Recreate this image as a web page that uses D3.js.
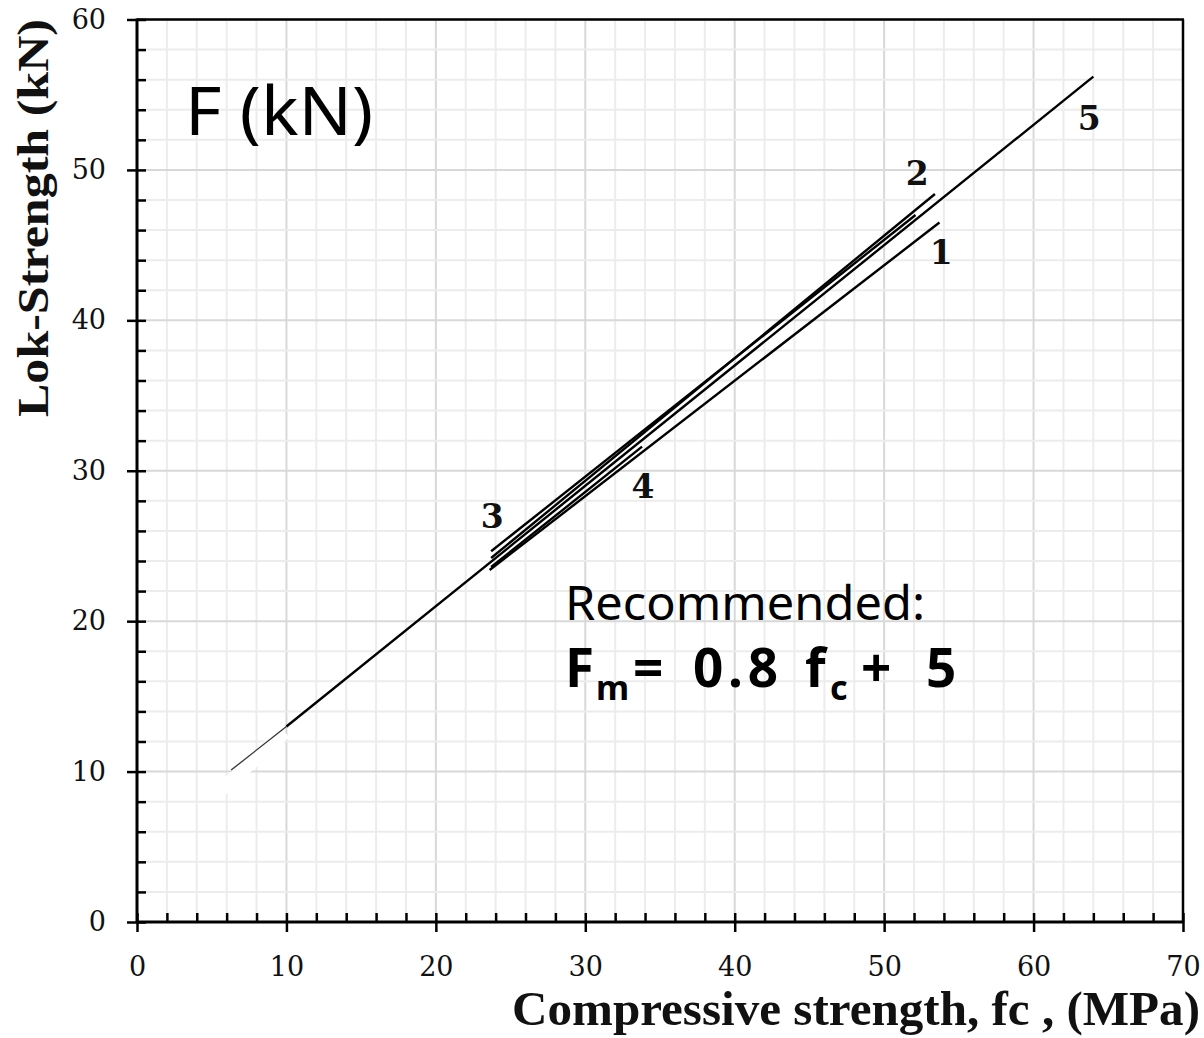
<!DOCTYPE html>
<html>
<head>
<meta charset="utf-8">
<style>
  body { margin: 0; background: #fff; }
  .tick text { font-family: "DejaVu Serif", serif; font-size: 27px; fill: #111; }
  .axis path { display: none; }
  .axis line { stroke: #000; stroke-width: 2.5; }
</style>
</head>
<body>
<script src="https://cdnjs.cloudflare.com/ajax/libs/d3/7.8.5/d3.min.js"></script>
<script>
// tick values
var xMajor = [0, 10, 20, 30, 40, 50, 60, 70];
var yMajor = [0, 10, 20, 30, 40, 50, 60];
var minorStep = 2;

// regression lines: [fc start, fc end], [F start, F end]
var lineIds = ["1", "2", "3", "4", "5"];
var lineFc = [[23.6, 53.7], [23.7, 53.4], [23.7, 52.1], [23.7, 33.8], [10, 64]];
var lineF  = [[23.4, 46.5], [24.2, 48.4], [24.65, 47.0], [23.6, 31.6], [13, 56.2]];

// faint hand-drawn extension of line 5 and the white patch over it
var extFc = [6.3, 10];
var extF  = [10.1, 13.0];
var patchFc = [5.3, 9.9];
var patchF  = [8.5, 12.6];

// curve numbers: label, fc, F (left/baseline position)
var labelText = ["5", "2", "1", "3", "4"];
var labelFc   = [62.95, 51.45, 53.05, 23.0, 33.1];
var labelF    = [52.65, 49.0, 43.75, 26.2, 28.2];

var W = 1204, H = 1038;
var svg = d3.select("body").append("svg")
    .attr("width", W).attr("height", H);

var x = d3.scaleLinear().domain([0, 70]).range([137, 1183]);
var y = d3.scaleLinear().domain([0, 60]).range([922, 19.5]);

var xMinor = d3.range(0, 70 + 0.001, minorStep);
var yMinor = d3.range(0, 60 + 0.001, minorStep);

// grid
var grid = svg.append("g");
grid.selectAll("line.vx").data(xMinor).enter().append("line")
    .attr("x1", d => x(d)).attr("x2", d => x(d))
    .attr("y1", y(0)).attr("y2", y(60))
    .attr("stroke", d => d % 10 === 0 ? "#d8d8d8" : "#ececec")
    .attr("stroke-width", 2);
grid.selectAll("line.hy").data(yMinor).enter().append("line")
    .attr("y1", d => y(d)).attr("y2", d => y(d))
    .attr("x1", x(0)).attr("x2", x(70))
    .attr("stroke", d => d % 10 === 0 ? "#d8d8d8" : "#ececec")
    .attr("stroke-width", 2);

// white patch
svg.append("line")
    .attr("x1", x(patchFc[0])).attr("y1", y(patchF[0]))
    .attr("x2", x(patchFc[1])).attr("y2", y(patchF[1]))
    .attr("stroke", "#fff").attr("stroke-width", 13);

// thin extension
svg.append("line")
    .attr("x1", x(extFc[0])).attr("y1", y(extF[0]))
    .attr("x2", x(extFc[1])).attr("y2", y(extF[1]))
    .attr("stroke", "#333").attr("stroke-width", 1.3);

// lines
svg.selectAll("line.fit").data(lineIds).enter().append("line")
    .attr("x1", (d, i) => x(lineFc[i][0])).attr("y1", (d, i) => y(lineF[i][0]))
    .attr("x2", (d, i) => x(lineFc[i][1])).attr("y2", (d, i) => y(lineF[i][1]))
    .attr("stroke", "#000").attr("stroke-width", 2.4);

// frame top + right
svg.append("line").attr("x1", x(0)).attr("x2", x(70) + 1)
    .attr("y1", y(60)).attr("y2", y(60)).attr("stroke", "#000").attr("stroke-width", 2.5);
svg.append("line").attr("x1", x(70)).attr("x2", x(70))
    .attr("y1", y(60)).attr("y2", y(0)).attr("stroke", "#000").attr("stroke-width", 2.5);

// axes: minor ticks inward, major ticks outward with labels
svg.append("g").attr("class", "axis")
    .attr("transform", "translate(0," + y(0) + ")")
    .call(d3.axisBottom(x).tickValues(xMinor).tickSizeInner(-9).tickSizeOuter(0).tickFormat(""));
svg.append("g").attr("class", "axis")
    .attr("transform", "translate(0," + y(0) + ")")
    .call(d3.axisBottom(x).tickValues(xMajor).tickSizeInner(10).tickSizeOuter(0).tickPadding(25).tickFormat(d3.format("d")));
svg.append("g").attr("class", "axis")
    .attr("transform", "translate(" + x(0) + ",0)")
    .call(d3.axisLeft(y).tickValues(yMinor).tickSizeInner(-9).tickSizeOuter(0).tickFormat(""));
svg.append("g").attr("class", "axis")
    .attr("transform", "translate(" + x(0) + ",0)")
    .call(d3.axisLeft(y).tickValues(yMajor).tickSizeInner(10).tickSizeOuter(0).tickPadding(21).tickFormat(d3.format("d")));

// axis lines
svg.append("line").attr("x1", x(0)).attr("x2", x(70) + 1)
    .attr("y1", y(0)).attr("y2", y(0)).attr("stroke", "#000").attr("stroke-width", 3);
svg.append("line").attr("x1", x(0)).attr("x2", x(0))
    .attr("y1", y(60) - 1).attr("y2", y(0) + 1).attr("stroke", "#000").attr("stroke-width", 3);

// axis titles
svg.append("text")
    .attr("x", 1200).attr("y", 1025)
    .attr("text-anchor", "end")
    .attr("textLength", 688).attr("lengthAdjust", "spacingAndGlyphs")
    .style("font-family", "'Liberation Serif', serif").style("font-weight", "bold")
    .style("font-size", "48px").attr("fill", "#111")
    .text("Compressive strength, fc , (MPa)");
svg.append("text")
    .attr("transform", "translate(48,218) rotate(-90)")
    .attr("text-anchor", "middle")
    .attr("textLength", 398).attr("lengthAdjust", "spacingAndGlyphs")
    .style("font-family", "'Liberation Serif', serif").style("font-weight", "bold")
    .style("font-size", "45px").attr("fill", "#111")
    .text("Lok-Strength (kN)");

// curve numbers
svg.selectAll("text.num").data(labelText).enter().append("text")
    .attr("x", (d, i) => x(labelFc[i])).attr("y", (d, i) => y(labelF[i]))
    .style("font-family", "'DejaVu Serif', serif").style("font-weight", "bold")
    .style("font-size", "33px").attr("fill", "#111")
    .text(d => d);

// hand-written notes
var hand = "'Comic Sans MS', 'Noto Sans', sans-serif";
svg.append("text")
    .attr("x", 185).attr("y", 135)
    .attr("textLength", 188).attr("lengthAdjust", "spacingAndGlyphs")
    .style("font-family", hand).style("font-size", "68px").attr("fill", "#000")
    .text("F (kN)");
svg.append("text")
    .attr("x", 565).attr("y", 620)
    .attr("textLength", 360).attr("lengthAdjust", "spacingAndGlyphs")
    .style("font-family", hand).style("font-size", "47px").attr("fill", "#000")
    .text("Recommended:");

// equation pieces: text, x, baseline shift, size
var eqText  = ["F", "m", "=", "0.8", "f", "c", "+", "5"];
var eqX     = [565, 596, 633, 693, 805, 830, 861, 926];
var eqDy    = [0, 13, 0, 0, 0, 13, 0, 0];
var eqSize  = [53, 34, 53, 53, 53, 34, 53, 53];
var eq = svg.selectAll("text.eq").data(eqText).enter().append("text")
    .attr("x", (d, i) => eqX[i]).attr("y", (d, i) => 687 + eqDy[i])
    .style("font-family", hand).style("font-weight", "bold")
    .style("font-size", (d, i) => eqSize[i] + "px").attr("fill", "#000")
    .text(d => d);
// stretch the number to its width in the picture
eq.filter(d => d === "0.8").attr("textLength", 85).attr("lengthAdjust", "spacing");
</script>
</body>
</html>
